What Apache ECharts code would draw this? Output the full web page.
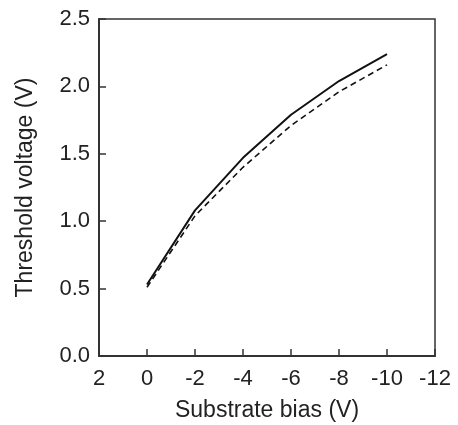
<!DOCTYPE html>
<html>
<head>
<meta charset="utf-8">
<script src="https://cdn.jsdelivr.net/npm/echarts@6/dist/echarts.min.js"></script>
<style>
  html, body { margin: 0; padding: 0; background: #fff; }
  #chart { width: 458px; height: 425px; }
</style>
</head>
<body>
<div id="chart"></div>
<script>
// substrate bias (V) and threshold voltage (V)
var bias = [0, -2, -4, -6, -8, -10];
var vthSolid = [0.53, 1.08, 1.47, 1.79, 2.04, 2.24];
var vthDashed = [0.51, 1.04, 1.40, 1.71, 1.96, 2.16];

function pairs(xs, ys) {
    var out = [];
    for (var k = 0; k < xs.length; k++) {
        out.push([xs[k], ys[k]]);
    }
    return out;
}

var myChart = echarts.init(document.getElementById('chart'));

var font = 'Liberation Sans, Arial, Helvetica, sans-serif';

var option = {
    animation: false,
    grid: {
        left: 99,
        right: 23,
        top: 19,
        bottom: 69,
        outerBoundsMode: 'none',
        show: true,
        borderColor: '#333',
        borderWidth: 1.5
    },
    xAxis: {
        type: 'value',
        min: -12,
        max: 2,
        interval: 2,
        inverse: true,
        name: 'Substrate bias (V)',
        nameLocation: 'middle',
        nameGap: 43,
        nameTextStyle: { fontFamily: font, fontSize: 23, color: '#222' },
        axisLine: { onZero: false, lineStyle: { color: '#333', width: 2 } },
        axisTick: { inside: true, length: 7, lineStyle: { color: '#333', width: 1.5 } },
        axisLabel: { fontFamily: font, fontSize: 22, color: '#222', margin: 12 },
        splitLine: { show: false }
    },
    yAxis: {
        type: 'value',
        min: 0,
        max: 2.5,
        interval: 0.5,
        name: 'Threshold voltage (V)',
        nameLocation: 'middle',
        nameGap: 62,
        nameTextStyle: { fontFamily: font, fontSize: 23, color: '#222' },
        axisLine: { onZero: false, lineStyle: { color: '#333', width: 2 } },
        axisTick: { inside: true, length: 7, lineStyle: { color: '#333', width: 1.5 } },
        axisLabel: {
            fontFamily: font, fontSize: 22, color: '#222', margin: 9,
            formatter: function (v) { return v.toFixed(1); }
        },
        splitLine: { show: false }
    },
    series: [{
        name: 'solid',
        type: 'line',
        data: pairs(bias, vthSolid),
        showSymbol: false,
        lineStyle: { color: '#111', width: 2 }
    }, {
        name: 'dashed',
        type: 'line',
        data: pairs(bias, vthDashed),
        showSymbol: false,
        lineStyle: { color: '#111', width: 1.6, type: [6, 4] }
    }]
};

myChart.setOption(option);
</script>
</body>
</html>
